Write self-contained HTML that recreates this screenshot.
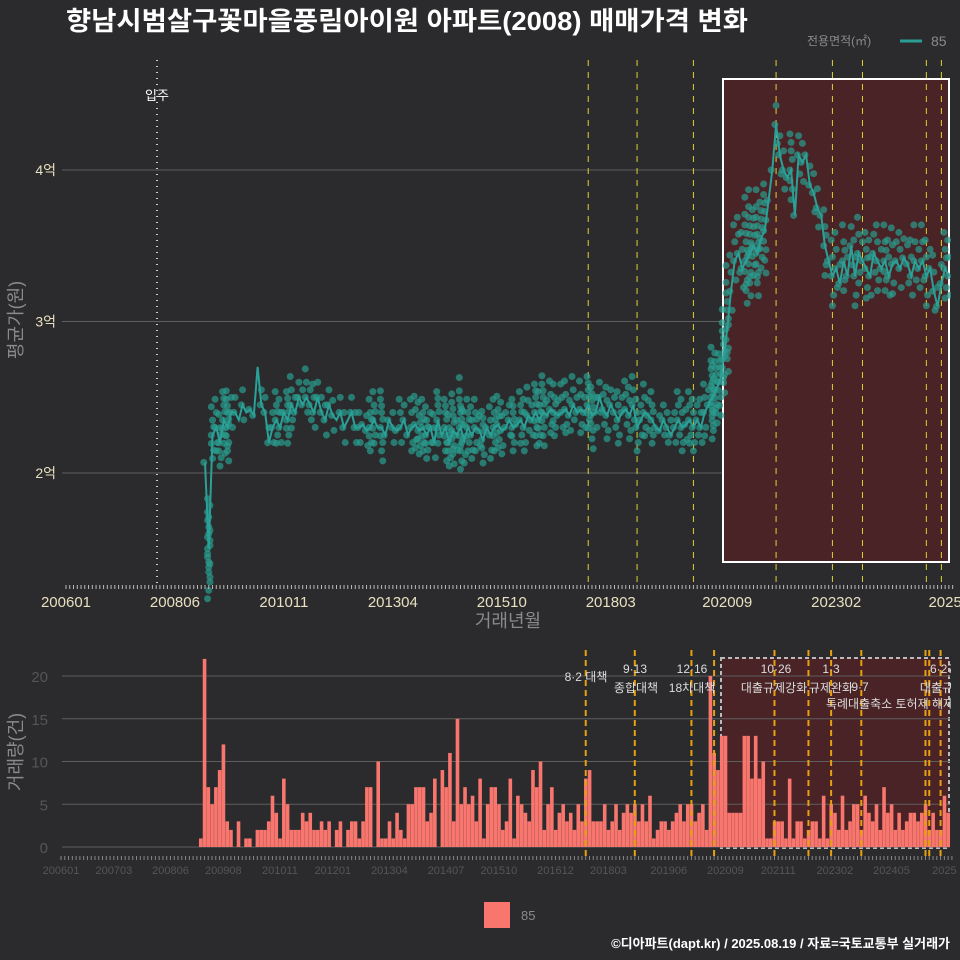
<!DOCTYPE html>
<html><head><meta charset="utf-8">
<style>
html,body{margin:0;padding:0;background:#2b2b2d;}
svg{display:block;font-family:"Liberation Sans","Noto Sans CJK KR",sans-serif;}
</style></head>
<body>
<svg id="c" width="960" height="960" viewBox="0 0 960 960" xmlns="http://www.w3.org/2000/svg">
<rect width="960" height="960" fill="#2b2b2d"/>
<text x="66" y="30" fill="#ffffff" font-size="26" font-weight="bold" textLength="682" lengthAdjust="spacingAndGlyphs">향남시범살구꽃마을풍림아이원 아파트(2008) 매매가격 변화</text>
<text x="807" y="45" fill="#8a8a8a" font-size="12">전용면적(㎡)</text>
<line x1="900" y1="41" x2="922" y2="41" stroke="#2a9d95" stroke-width="3"/>
<text x="931" y="46" fill="#8a8a8a" font-size="14">85</text>
<g id="topg"></g>
<g id="botg"></g>
<rect x="484" y="902" width="26" height="26" fill="#f8766d"/>
<text x="521" y="920" fill="#8a8a8a" font-size="13">85</text>
<text x="950" y="948" fill="#ffffff" font-size="13" font-weight="bold" text-anchor="end">©디아파트(dapt.kr) / 2025.08.19 / 자료=국토교통부 실거래가</text>
</svg>
<script>
const startMonth = 37; // 200902 as months since 200601
const priceAvg = [
2.07,1.5,2.25,2.3,2.2,2.35,2.3,2.4,2.4,2.35,2.45,
2.4,2.42,2.38,2.7,2.45,2.4,2.2,2.3,2.35,2.3,2.4,2.35,
2.45,2.4,2.5,2.45,2.5,2.45,2.4,2.5,2.4,2.35,2.45,2.38,
2.35,2.4,2.3,2.35,2.4,2.3,2.3,2.32,2.28,2.3,2.35,2.3,
2.3,2.25,2.35,2.3,2.28,2.3,2.35,2.25,2.3,2.32,2.28,2.3,
2.25,2.3,2.2,2.35,2.25,2.3,2.2,2.28,2.25,2.3,2.22,2.3,
2.25,2.3,2.28,2.22,2.3,2.25,2.3,2.32,2.28,2.3,2.35,2.3,
2.32,2.35,2.3,2.38,2.35,2.4,2.35,2.4,2.38,2.42,2.4,2.38,
2.4,2.42,2.38,2.45,2.4,2.42,2.4,2.45,2.38,2.4,2.5,2.42,
2.38,2.45,2.4,2.35,2.4,2.42,2.38,2.45,2.3,2.35,2.4,2.38,
2.35,2.3,2.28,2.35,2.3,2.25,2.3,2.35,2.3,2.32,2.35,2.3,
2.35,2.3,2.4,2.45,2.5,2.55,2.6,2.75,2.95,3.2,3.4,3.45,
3.35,3.4,3.45,3.5,3.45,3.55,3.6,3.8,4.0,4.3,4.1,4.0,
3.95,4.0,3.7,4.1,4.05,4.1,3.9,3.85,3.75,3.7,3.5,3.4,
3.3,3.35,3.25,3.4,3.3,3.5,3.3,3.45,3.4,3.35,3.3,3.45,
3.4,3.35,3.4,3.3,3.38,3.4,3.35,3.42,3.38,3.3,3.4,3.35,
3.4,3.3,3.35,3.2,3.1,3.25,3.35,3.3];
const volume = [
1,22,7,5,7,9,12,3,2,0,3,
0,1,1,0,2,2,2,3,6,4,1,8,
5,2,2,2,4,3,4,2,2,3,2,3,
0,2,3,0,2,3,3,1,3,7,7,0,
10,1,1,3,1,4,2,1,5,5,7,7,
7,3,4,8,0,9,7,11,3,15,5,7,
5,6,3,8,1,5,7,7,5,2,3,8,
1,6,5,4,3,9,7,10,2,5,7,2,
4,5,3,4,2,5,3,8,9,3,3,3,
5,2,3,5,2,4,5,4,5,3,5,3,
6,1,2,3,3,2,3,4,5,3,5,5,
3,4,5,2,20,11,9,13,13,4,4,4,
4,13,13,8,13,8,10,1,1,3,3,3,
1,8,1,3,3,1,2,3,3,1,6,1,
5,4,2,6,2,3,5,5,2,6,4,3,
5,2,7,4,5,2,4,2,3,4,4,3,
4,5,2,4,2,2,6,4];
const topTickLabels = ["200601","200806","201011","201304","201510","201803","202009","202302","2025"];
const topTickMonths = [0,29,58,87,116,145,176,205,234];
const botTickLabels = ["200601","200703","200806","200908","201011","201201","201304","201407","201510","201612","201803","201906","202009","202111","202302","202405","2025"];
const botTickMonths = [0,14,29,43,58,72,87,102,116,131,145,161,176,190,205,220,234];
const priceTicks = [2,3,4];
const priceTickLabels = ["2억","3억","4억"];
const volTicks = [0,5,10,15,20];
const policyMonthsTop = [139,152,167,189,204,212,229,233];
const policyMonthsBot = [139,152,167,173,189,198,204,212,229,230,233];
const policyDates = ["8·2 대책","9·13","12·16","10·26","1·3","9·7","6·27"];
const policyNames = ["","종합대책","18차대책","대출규제강화","규제완화","특례대출축소 토허제 해제","대출규제"];
const spreadOffsets=[0,0.09,-0.09,0.17,-0.14,0.05,-0.05,0.13,-0.2,0.22,-0.11,0.02,0.3,-0.25,0.11,-0.03,0.19,-0.17,0.07,-0.08,0.26,-0.3];

const NS="http://www.w3.org/2000/svg";
function mk(tag,attrs,parent){const e=document.createElementNS(NS,tag);for(const k in attrs)e.setAttribute(k,attrs[k]);parent.appendChild(e);return e;}
const xTop=m=>66+m*3.757;
const yTop=v=>473-(v-2)*151.5;
const xBot=m=>61+m*3.775;
const yBot=v=>847-v*8.55;
const topG=document.getElementById('topg'), botG=document.getElementById('botg');

priceTicks.forEach((v,i)=>{
  const g=mk('line',{x1:62,x2:950,y1:yTop(v),y2:yTop(v),stroke:'#5e5e5e','stroke-width':1},topG);
  
  
  const t=mk('text',{x:56,y:yTop(v)+5,fill:'#e8e0c0','font-size':14,'text-anchor':'end'},topG);
  t.textContent=priceTickLabels[i];
  
  
});
const hr=mk('rect',{x:723,y:79,width:226,height:483,fill:'#4a2326',stroke:'#ffffff','stroke-width':2},topG);


const mi=mk('line',{x1:157,x2:157,y1:60,y2:585,stroke:'#cccccc','stroke-width':2,'stroke-dasharray':'1 5'},topG);


const mt=mk('text',{x:157,y:100,fill:'#ffffff','font-size':13,'text-anchor':'middle'},topG);
mt.textContent='입주';


policyMonthsTop.forEach(m=>{
  const l=mk('line',{x1:xTop(m),x2:xTop(m),y1:60,y2:585,stroke:'#e0d030','stroke-width':1,'stroke-dasharray':'6 6'},topG);
  
  
});
priceAvg.forEach((p,i)=>{
  const n=volume[i]||0; const spread=p>2.8?1.4:1.1;
  for(let k=0;k<n;k++){
    const off=spreadOffsets[k%spreadOffsets.length]*spread;
    const c=mk('circle',{cx:xTop(startMonth+i)+((k%3)-1)*1.2,cy:yTop(p+off),r:3.5,fill:'#2a9d8f','fill-opacity':0.7},topG);
    
    
  }
});
let d='';priceAvg.forEach((p,i)=>{d+=(i?'L':'M')+xTop(startMonth+i).toFixed(1)+','+yTop(p).toFixed(1);});
const pl=mk('path',{d:d,fill:'none',stroke:'#2aa198','stroke-width':2},topG);


for(let m=0;m<=236;m++){const t=mk('line',{x1:xTop(m),x2:xTop(m),y1:585,y2:589,stroke:'#bbbbbb','stroke-width':1},topG);
  
  }
topTickLabels.forEach((s,i)=>{
  const t=mk('text',{x:xTop(topTickMonths[i]),y:607,fill:'#e8e0c0','font-size':15,'text-anchor':'middle'},topG);
  t.textContent=s;
  
  
});
const xt=mk('text',{x:508,y:627,fill:'#8a8a8a','font-size':18,'text-anchor':'middle'},topG);
xt.textContent='거래년월';


const yt=mk('text',{x:22,y:320,fill:'#8a8a8a','font-size':18,'text-anchor':'middle',transform:'rotate(-90 22 320)'},topG);
yt.textContent='평균가(원)';



const br=mk('rect',{x:721,y:658,width:228,height:190,fill:'#4a2326',stroke:'#bbbbbb','stroke-width':2,'stroke-dasharray':'4 3'},botG);


volTicks.forEach(v=>{
  const g=mk('line',{x1:62,x2:950,y1:yBot(v),y2:yBot(v),stroke:'#5e5e5e','stroke-width':1},botG);
  
  
  const t=mk('text',{x:48,y:yBot(v)+6,fill:'#555555','font-size':15,'text-anchor':'end'},botG);
  t.textContent=v;
  
  
});
volume.forEach((v,i)=>{
  const x=xBot(startMonth+i);
  const b=mk('rect',{x:x-1.7,y:yBot(v),width:3.6,height:yBot(0)-yBot(v),fill:'#f8766d'},botG);
  
  
});
policyMonthsBot.forEach(m=>{
  const l=mk('line',{x1:xBot(m),x2:xBot(m),y1:650,y2:858,stroke:'#e6a010','stroke-width':2,'stroke-dasharray':'6 4'},botG);
  
  
});
const annX=[586,635,692,776,831,860,942], annDY=[681,673,673,673,673,691,673];
const annNX=[0,636,692,774,831,890,942], annNY=[0,692,692,692,692,708,692];
policyDates.forEach((s,i)=>{
  const t=mk('text',{x:annX[i],y:annDY[i],fill:'#dddddd','font-size':12,'text-anchor':'middle'},botG);
  t.textContent=s;
  
  
  if(policyNames[i]){
    const n=mk('text',{x:annNX[i],y:annNY[i],fill:'#dddddd','font-size':12,'text-anchor':'middle'},botG);
    n.textContent=policyNames[i];
    
    
  }
});
for(let m=0;m<=236;m++){const t=mk('line',{x1:xBot(m),x2:xBot(m),y1:856,y2:860,stroke:'#888888','stroke-width':1},botG);
  
  }
botTickLabels.forEach((s,i)=>{
  const t=mk('text',{x:xBot(botTickMonths[i]),y:874,fill:'#555555','font-size':11,'text-anchor':'middle'},botG);
  t.textContent=s;
  
  
});
const vy=mk('text',{x:22,y:752,fill:'#8a8a8a','font-size':18,'text-anchor':'middle',transform:'rotate(-90 22 752)'},botG);
vy.textContent='거래량(건)';


const svgEl=document.getElementById('c');
const cover=mk('rect',{x:951,y:60,width:9,height:522,fill:'#2b2b2d'},svgEl);


const cover2=mk('rect',{x:951,y:650,width:9,height:200,fill:'#2b2b2d'},svgEl);


</script>
</body></html>
